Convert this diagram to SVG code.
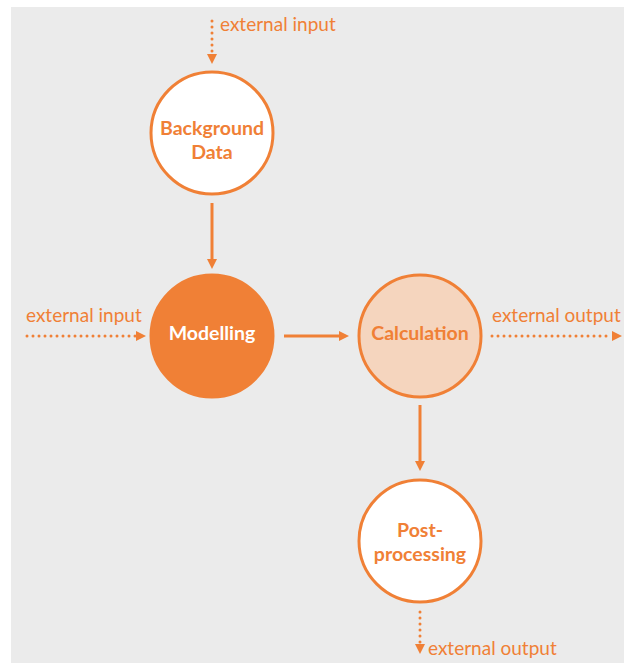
<svg xmlns="http://www.w3.org/2000/svg" width="624" height="663" viewBox="0 0 624 663">
<defs>
<marker id="ah" viewBox="0 0 10 10" refX="0" refY="5" markerWidth="10" markerHeight="10" markerUnits="userSpaceOnUse" orient="auto">
<path d="M0,0 L10,5 L0,10 Z" fill="#F08036"/>
</marker>
<style>
.solid{stroke:#F08036;stroke-width:3;fill:none}
.dot{stroke:#F08036;stroke-width:3;fill:none;stroke-dasharray:0 6;stroke-linecap:round}
.node{stroke:#F08036;stroke-width:3}
.lbl{font-family:Lato,"Open Sans","Liberation Sans",sans-serif;font-weight:bold;font-size:19.5px;text-anchor:middle}
.ext{font-family:Lato,"Open Sans","Liberation Sans",sans-serif;font-size:19px;fill:#F08036}
</style>
</defs>
<rect x="11" y="7" width="613" height="656" fill="#EBEBEB"/>
<g id="connectors">
<line class="dot" x1="212" y1="21" x2="212" y2="54" marker-end="url(#ah)"/>
<line class="solid" x1="212" y1="203" x2="212" y2="259" marker-end="url(#ah)"/>
<line class="dot" x1="27" y1="336" x2="136" y2="336" marker-end="url(#ah)"/>
<line class="solid" x1="284" y1="336" x2="339" y2="336" marker-end="url(#ah)"/>
<line class="dot" x1="492" y1="336" x2="612" y2="336" marker-end="url(#ah)"/>
<line class="solid" x1="420" y1="405" x2="420" y2="461" marker-end="url(#ah)"/>
<line class="dot" x1="420" y1="612" x2="420" y2="644" marker-end="url(#ah)"/>
</g>
<g id="labels">
<text class="ext" x="220" y="31">external input</text>
<text class="ext" x="26" y="322">external input</text>
<text class="ext" x="492" y="322">external output</text>
<text class="ext" x="428" y="655">external output</text>
</g>
<g id="background-data">
<circle class="node" cx="212" cy="133" r="61" fill="#FFFFFF"/>
<text class="lbl" x="212" y="135" fill="#F08036">Background</text>
<text class="lbl" x="212" y="159" fill="#F08036">Data</text>
</g>
<g id="modelling">
<circle class="node" cx="212" cy="336" r="61" fill="#F08036"/>
<text class="lbl" x="212" y="340" fill="#FFFFFF">Modelling</text>
</g>
<g id="calculation">
<circle class="node" cx="420" cy="336" r="61" fill="#F5D5BE"/>
<text class="lbl" x="420" y="340" fill="#F08036">Calculation</text>
</g>
<g id="post-processing">
<circle class="node" cx="420" cy="541" r="61" fill="#FFFFFF"/>
<text class="lbl" x="420" y="537" fill="#F08036">Post-</text>
<text class="lbl" x="420" y="561" fill="#F08036">processing</text>
</g>
</svg>
